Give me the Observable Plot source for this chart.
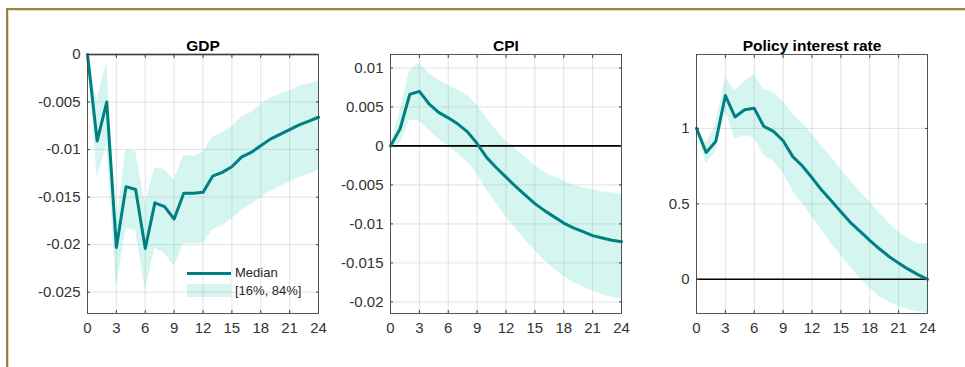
<!DOCTYPE html>
<html>
<head>
<meta charset="utf-8">
<script src="https://cdn.jsdelivr.net/npm/d3@7"></script>
<script src="https://cdn.jsdelivr.net/npm/@observablehq/plot@0.6"></script>
<style>
  html, body { margin: 0; padding: 0; background: #fff; }
  #wrap { position: relative; width: 965px; height: 367px; overflow: hidden; background: #fff; }
  #border { position: absolute; left: 6px; top: 8px; width: 980px; height: 400px;
            border-top: 2px solid #9b8245; border-left: 2px solid #9b8245;
            box-shadow: inset 1px 1px 0 #e6dbc2; }
  .panel { position: absolute; top: 25px; }
  .legend { position: absolute; font-family: "Liberation Sans", Arial, sans-serif; font-size: 13px; color: #262626; }
  .legend .row { position: absolute; white-space: nowrap; }
  .legend .line { position: absolute; height: 3px; background: #008080; }
  .legend .swatch { position: absolute; background: rgba(47,208,181,0.2); }
</style>
</head>
<body>
<div id="wrap">
  <div id="border"></div>
</div>
<script>
// ---- data ----
const horizon = [0,1,2,3,4,5,6,7,8,9,10,11,12,13,14,15,16,17,18,19,20,21,22,23,24];
const xTicks = [0,3,6,9,12,15,18,21,24];

const gdpMedian = [0,-0.0091,-0.0050,-0.0203,-0.0139,-0.0142,-0.0204,-0.0156,-0.0160,-0.0173,-0.0146,-0.0146,-0.0145,-0.0128,-0.0124,-0.0118,-0.0108,-0.0103,-0.0096,-0.0089,-0.0084,-0.0079,-0.0074,-0.0070,-0.0066];
const gdpUpper  = [0,-0.0048,-0.0007,-0.0178,-0.0100,-0.0102,-0.0157,-0.0119,-0.0121,-0.0132,-0.0106,-0.0107,-0.0103,-0.0087,-0.0082,-0.0076,-0.0066,-0.0061,-0.0053,-0.0046,-0.0042,-0.0038,-0.0033,-0.0031,-0.0028];
const gdpLower  = [0,-0.0129,-0.0095,-0.0246,-0.0183,-0.0185,-0.0248,-0.0204,-0.0209,-0.0223,-0.0199,-0.0199,-0.0199,-0.0184,-0.0180,-0.0173,-0.0164,-0.0158,-0.0151,-0.0144,-0.0139,-0.0134,-0.0129,-0.0126,-0.0122];
const gdpTicks  = [0,-0.005,-0.01,-0.015,-0.02,-0.025];

const cpiMedian = [0,0.0022,0.0066,0.0070,0.0054,0.0043,0.0036,0.0028,0.0018,0.0003,-0.0015,-0.0028,-0.0040,-0.0052,-0.0063,-0.0074,-0.0083,-0.0091,-0.0099,-0.0105,-0.0110,-0.0115,-0.0118,-0.0121,-0.0123];
const cpiUpper  = [0,0.0045,0.0097,0.0106,0.0093,0.0084,0.0078,0.0071,0.0065,0.0052,0.0035,0.0020,0.0007,-0.0004,-0.0015,-0.0025,-0.0034,-0.0040,-0.0045,-0.0050,-0.0054,-0.0056,-0.0059,-0.0060,-0.0062];
const cpiLower  = [0,0.0003,0.0033,0.0032,0.0020,0.0009,0.0000,-0.0010,-0.0021,-0.0036,-0.0057,-0.0074,-0.0091,-0.0106,-0.0121,-0.0134,-0.0147,-0.0158,-0.0167,-0.0175,-0.0181,-0.0186,-0.0191,-0.0194,-0.0196];
const cpiTicks  = [0.01,0.005,0,-0.005,-0.01,-0.015,-0.02];

const rateMedian = [1.0,0.84,0.913,1.218,1.076,1.124,1.133,1.013,0.98,0.918,0.813,0.751,0.673,0.591,0.52,0.447,0.376,0.318,0.258,0.202,0.151,0.107,0.067,0.031,0];
const rateUpper  = [1.0,0.902,1.024,1.34,1.251,1.313,1.358,1.258,1.236,1.18,1.091,1.036,0.962,0.884,0.807,0.729,0.653,0.58,0.513,0.44,0.373,0.313,0.269,0.236,0.236];
const rateLower  = [1.0,0.762,0.847,1.113,0.931,0.951,0.936,0.818,0.78,0.702,0.584,0.502,0.413,0.324,0.236,0.158,0.08,0.007,-0.06,-0.116,-0.153,-0.182,-0.202,-0.216,-0.222];
const rateTicks  = [0,0.5,1];

const titles = ["GDP", "CPI", "Policy interest rate"];
const legendLabels = ["Median", "[16%, 84%]"];

// ---- drawing ----
const axisColor = "#262626";
function panel({title, median, upper, lower, yDomain, yTicks, left, marginLeft}) {
  const data = horizon.map((t, i) => ({t, med: median[i], hi: upper[i], lo: lower[i]}));
  const plotW = 231, marginRight = 15;
  const chart = Plot.plot({
    width: marginLeft + plotW + marginRight,
    height: 318,
    marginTop: 29, marginBottom: 30, marginLeft, marginRight,
    style: {fontFamily: "'Liberation Sans', Arial, sans-serif", fontSize: "15px", color: "#333", background: "transparent", overflow: "visible"},
    x: {domain: [0, 24]},
    y: {domain: yDomain},
    marks: [
      Plot.gridX(xTicks, {stroke: axisColor, strokeOpacity: 0.13, strokeWidth: 1}),
      Plot.gridY(yTicks, {stroke: axisColor, strokeOpacity: 0.13, strokeWidth: 1}),
      Plot.areaY(data, {x: "t", y1: "lo", y2: "hi", fill: "#2fd0b5", fillOpacity: 0.2}),
      Plot.ruleY([0], {stroke: "#000", strokeWidth: 1.6}),
      Plot.lineY(data, {x: "t", y: "med", stroke: "#008080", strokeWidth: 3}),
      Plot.frame({stroke: "#444", strokeWidth: 0.9}),
      Plot.axisX(xTicks, {anchor: "bottom", tickSize: 0, tickPadding: 9, label: null, fontSize: 15, tickFormat: d => String(d)}),
      Plot.axisX(xTicks, {anchor: "bottom", tickSize: -3, fill: "none", label: null, stroke: "#444"}),
      Plot.axisX(xTicks, {anchor: "top", tickSize: -3, fill: "none", label: null, stroke: "#444"}),
      Plot.axisY(yTicks, {anchor: "left", tickSize: 0, tickPadding: 7, label: null, fontSize: 15, tickFormat: d => String(d)}),
      Plot.axisY(yTicks, {anchor: "left", tickSize: -3, fill: "none", label: null, stroke: "#444"}),
      Plot.axisY(yTicks, {anchor: "right", tickSize: -3, fill: "none", label: null, stroke: "#444"}),
      Plot.text([title], {frameAnchor: "top", lineAnchor: "bottom", dy: -4, fontWeight: "bold", fontSize: 15.5, fill: "#000"})
    ]
  });
  chart.classList.add("panel");
  chart.style.left = left + "px";
  document.getElementById("wrap").appendChild(chart);
}

panel({title: titles[0], median: gdpMedian, upper: gdpUpper, lower: gdpLower, yDomain: [-0.02724, 0], yTicks: gdpTicks, left: 0, marginLeft: 87});
panel({title: titles[1], median: cpiMedian, upper: cpiUpper, lower: cpiLower, yDomain: [-0.02149, 0.01172], yTicks: cpiTicks, left: 300, marginLeft: 90});
panel({title: titles[2], median: rateMedian, upper: rateUpper, lower: rateLower, yDomain: [-0.227, 1.49], yTicks: rateTicks, left: 610, marginLeft: 86});

// legend (inside GDP panel)
const legend = document.createElement("div");
legend.className = "legend";
legend.style.left = "0px"; legend.style.top = "0px";
legend.innerHTML = `
  <div class="line" style="left:187px; top:272px; width:44px;"></div>
  <div class="row" style="left:235px; top:265px;">${legendLabels[0]}</div>
  <div class="swatch" style="left:187px; top:284px; width:44px; height:13px;"></div>
  <div class="row" style="left:235px; top:283px;">${legendLabels[1]}</div>`;
document.getElementById("wrap").appendChild(legend);
</script>
</body>
</html>
